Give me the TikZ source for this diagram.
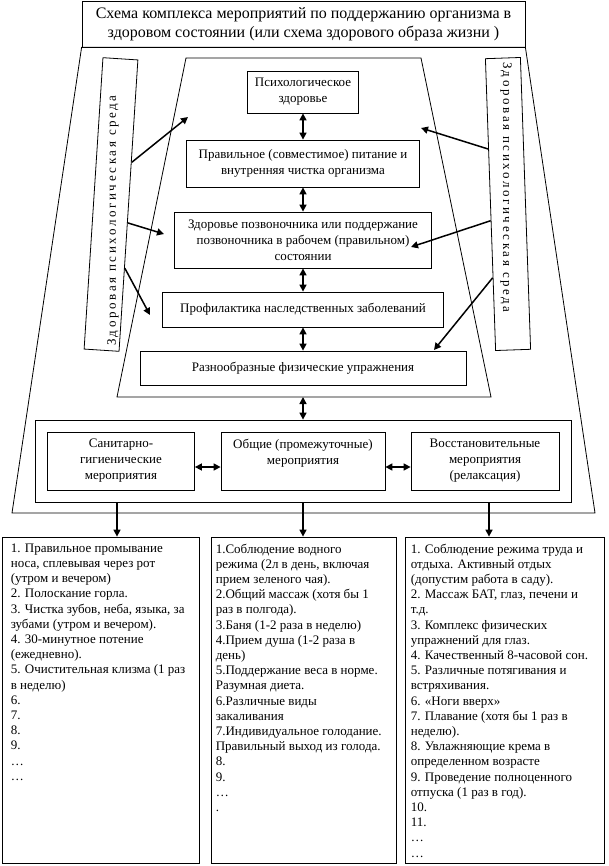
\documentclass[tikz,border=0pt]{standalone}
\usepackage{fontspec}
\setmainfont{Liberation Serif}
\newfontfamily\spacedserif[LetterSpace=20]{Liberation Serif}
\usetikzlibrary{arrows.meta,calc,positioning}

\tikzset{
  box/.style={draw, line width=0.8pt, fill=white, align=center, inner sep=2pt,
    font=\fontsize{13}{16}\selectfont},
  boxtext/.style={align=center, inner sep=0pt, font=\fontsize{13}{16}\selectfont},
  listtext/.style={anchor=north west, align=left, inner sep=0pt,
    font=\fontsize{13}{15.2}\selectfont},
  sidebox/.style={draw, line width=0.8pt, minimum width=292pt, minimum height=35pt, inner sep=0pt},
  sidetext/.style={anchor=west, inner sep=0pt, font=\spacedserif\fontsize{13}{16}\selectfont},
  link/.style={line width=1.5pt, {Triangle[length=7pt,width=7pt]}-{Triangle[length=7pt,width=7pt]}},
  feed/.style={line width=1.5pt, -{Triangle[length=7pt,width=7pt]}},
}

\begin{document}
\begin{tikzpicture}[x=1pt, y=-1pt]
    \useasboundingbox (0,0) rectangle (609,866);
    \node(title) at (303.5,24) [box, minimum width=443pt, minimum height=46pt, font=\fontsize{16}{19}\selectfont]
      {Схема комплекса мероприятий по поддержанию организма в\\здоровом состоянии (или схема здорового образа жизни )};
    \coordinate (obr) at (595,513);
    \coordinate (obl) at (12,513);
    \draw[line width=0.8pt] (title.south west) -- (title.south east) -- (obr) -- (obl) -- cycle;
    \coordinate (itl) at (186,58);
    \coordinate (itr) at (421,58);
    \coordinate (ibr) at (491,397);
    \coordinate (ibl) at (117,397);
    \draw[line width=0.8pt] (itl) -- (itr) -- (ibr) -- (ibl) -- cycle;
    % side panels
    \node(lenv) at (111,204.5) [sidebox, rotate=86.3] {};
    \node(renv) at (508,204) [sidebox, rotate=-88] {};
    \node(lenvt) at (113,346) [sidetext, rotate=90] {Здоровая психологическая среда};
    \node(renvt) at (506,62) [sidetext, rotate=-90] {Здоровая психологическая среда};
    % inner stack
    \node(psy) at (303,92) [box, minimum width=111pt, minimum height=42pt] {Психологическое\\здоровье};
    \node(nut) at (303,163.5) [box, minimum width=233pt, minimum height=47pt]
      {Правильное (совместимое) питание и\\внутренняя чистка организма};
    \node(spi) at (303,240) [box, minimum width=257pt, minimum height=56pt]
      {Здоровье позвоночника или поддержание\\позвоночника в рабочем (правильном)\\состоянии};
    \node(pro) at (303,309.5) [box, minimum width=281pt, minimum height=35pt] {Профилактика наследственных заболеваний};
    \node(exe) at (303,368) [box, minimum width=326pt, minimum height=34pt] {Разнообразные физические упражнения};
    \draw[link] (psy) -- (nut);
    \draw[link] (nut) -- (spi);
    \draw[link] (spi) -- (pro);
    \draw[link] (pro) -- (exe);
    % environment arrows
    \coordinate (l1e) at (188,117);
    \coordinate (l2e) at (164,234);
    \coordinate (l3e) at (150,315);
    \coordinate (r1e) at (421,128);
    \coordinate (r2e) at (411,247);
    \coordinate (r3e) at (434,350);
    \draw[feed] ($(lenv.south west)!0.648!(lenv.south east)$) -- (l1e);
    \draw[feed] ($(lenv.south west)!0.441!(lenv.south east)$) -- (l2e);
    \draw[feed] ($(lenv.south west)!0.286!(lenv.south east)$) -- (l3e);
    \draw[feed] ($(renv.south west)!0.31!(renv.south east)$) -- (r1e);
    \draw[feed] ($(renv.south west)!0.555!(renv.south east)$) -- (r2e);
    \draw[feed] ($(renv.south west)!0.75!(renv.south east)$) -- (r3e);
    % group of measures
    \node(grp) at (303,461) [box, minimum width=536pt, minimum height=82pt] {};
    \node(san) at (121,461) [box, minimum width=147pt, minimum height=58pt] {Санитарно-\\гигиенические\\мероприятия};
    \node(gen) at (303,461) [box, minimum width=164pt, minimum height=58pt] {};
    \node(gent) at ([yshift=-7pt]gen.north) [boxtext, anchor=north] {Общие (промежуточные)\\мероприятия};
    \node(rest) at (485,461) [box, minimum width=148pt, minimum height=58pt] {Восстановительные\\мероприятия\\(релаксация)};
    \draw[link] (grp.north |- ibl) -- (grp);
    \draw[link] ($(san.east)+(0,6)$) -- ($(gen.west)+(0,6)$);
    \draw[link] ($(gen.east)+(0,6)$) -- ($(rest.west)+(0,6)$);
    % lists
    \node(lst1) at (100.5,700) [box, minimum width=197pt, minimum height=326pt] {};
    \node(lst2) at (303.5,700) [box, minimum width=185pt, minimum height=326pt] {};
    \node(lst3) at (504.5,700) [box, minimum width=199pt, minimum height=326pt] {};
    \draw[feed] ($(san.south |- grp.south)+(-4,0)$) -- ($(san.south |- lst1.north)+(-4,0)$);
    \draw[feed] (gen.south |- grp.south) -- (gen.south |- lst2.north);
    \draw[feed] ($(rest.south |- grp.south)+(4,0)$) -- ($(rest.south |- lst3.north)+(4,0)$);
    \node(lst1t) at ([xshift=9pt,yshift=-7pt]lst1.north west) [listtext]
      {1. Правильное промывание\\носа, сплевывая через рот\\(утром и вечером)\\2. Полоскание горла.\\
       3. Чистка зубов, неба, языка, за\\зубами (утром и вечером).\\4. 30-минутное потение\\(ежедневно).\\
       5. Очистительная клизма (1 раз\\в неделю)\\6.\\7.\\8.\\9.\\…\\…};
    \node(lst2t) at ([xshift=5pt,yshift=-7pt]lst2.north west) [listtext]
      {1.Соблюдение водного\\режима (2л в день, включая\\прием зеленого чая).\\2.Общий массаж (хотя бы 1\\
       раз в полгода).\\3.Баня (1-2 раза в неделю)\\4.Прием душа (1-2 раза в\\день)\\
       5.Поддержание веса в норме.\\Разумная диета.\\6.Различные виды\\закаливания\\
       7.Индивидуальное голодание.\\Правильный выход из голода.\\8.\\9.\\…\\.};
    \node(lst3t) at ([xshift=6pt,yshift=-7pt]lst3.north west) [listtext]
      {1. Соблюдение режима труда и\\отдыха. Активный отдых\\(допустим работа в саду).\\
       2. Массаж БАТ, глаз, печени и\\т.д.\\3. Комплекс физических\\упражнений для глаз.\\
       4. Качественный 8-часовой сон.\\5. Различные потягивания и\\встряхивания.\\6. «Ноги вверх»\\
       7. Плавание (хотя бы 1 раз в\\неделю).\\8. Увлажняющие крема в\\определенном возрасте\\
       9. Проведение полноценного\\отпуска (1 раз в год).\\10.\\11.\\…\\…};
\end{tikzpicture}
\end{document}
